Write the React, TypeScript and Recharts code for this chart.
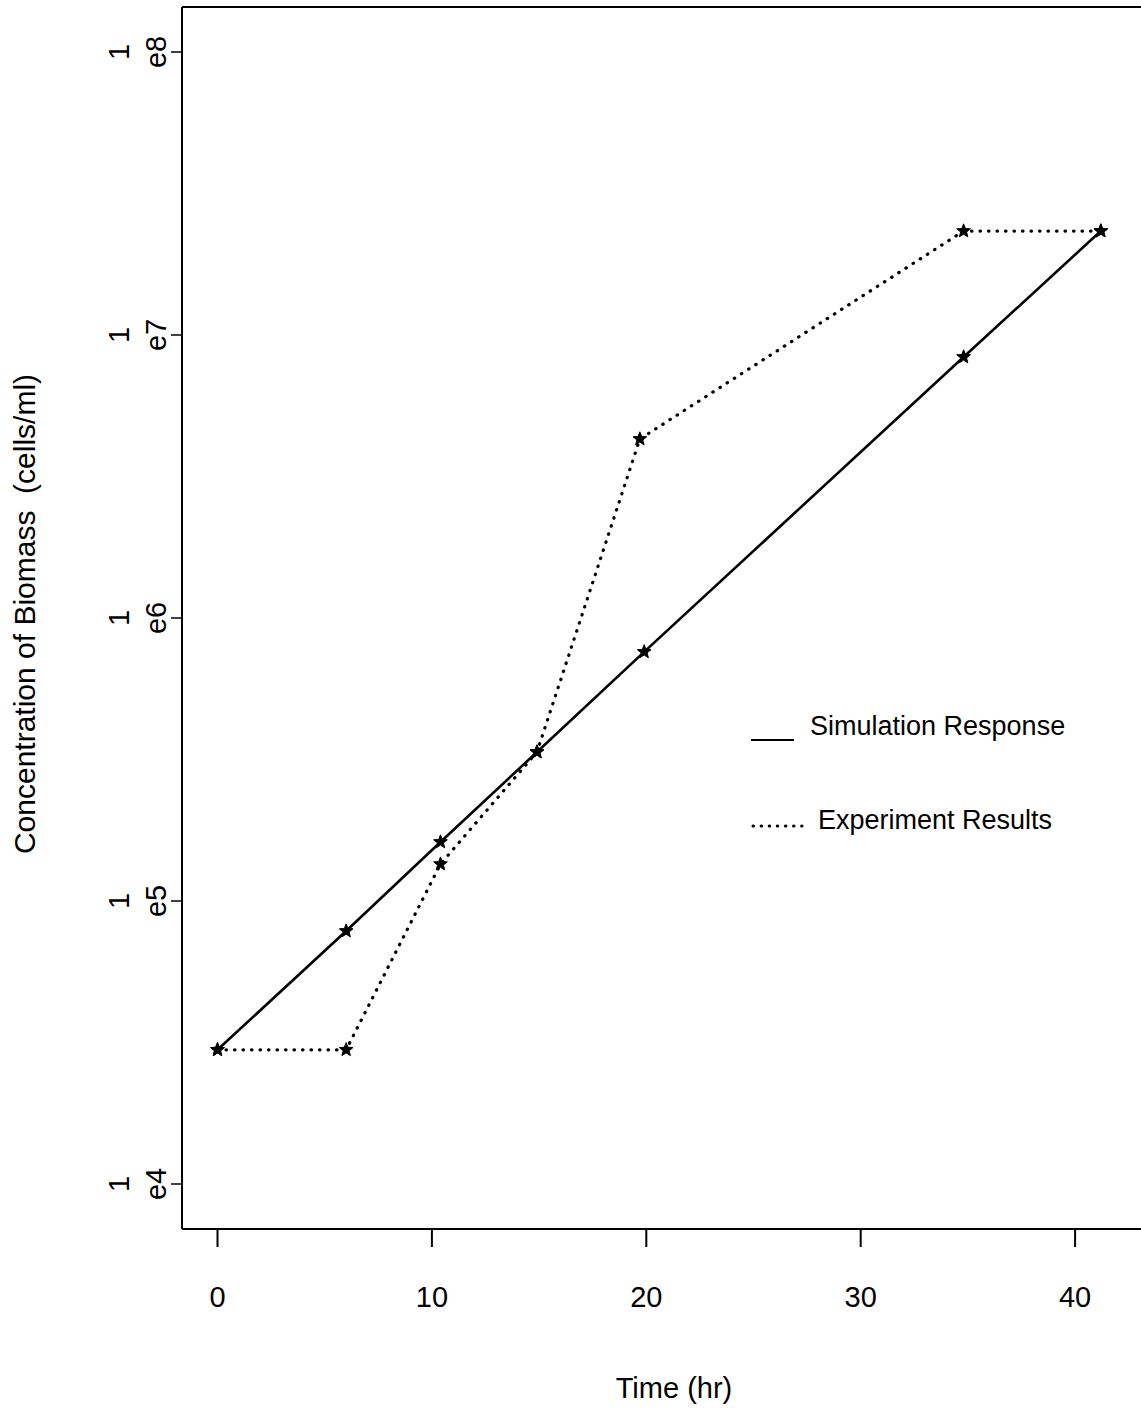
import React from 'react';
import { LineChart, Line, XAxis, YAxis, Legend, ReferenceLine } from 'recharts';

// ---- data ----
const TIME_SIM = [0, 6, 10.4, 14.9, 19.9, 34.8, 41.2];
const SIM_VALUES = [29800, 78300, 161600, 336000, 759000, 8360000, 23300000];
const TIME_EXP = [0, 6, 10.4, 14.9, 19.7, 34.8, 41.2];
const EXP_VALUES = [29800, 29800, 135000, 336000, 4290000, 23300000, 23300000];

const X_TICKS = [0, 10, 20, 30, 40];
const Y_TICKS = [1e4, 1e5, 1e6, 1e7, 1e8];
const Y_TICK_LABELS = [
  ['1', 'e4'],
  ['1', 'e5'],
  ['1', 'e6'],
  ['1', 'e7'],
  ['1', 'e8'],
];
const SERIES_NAMES = ['Simulation Response', 'Experiment Results'];
const X_TITLE = 'Time (hr)';
const Y_TITLE = 'Concentration of Biomass  (cells/ml)';

const X_DOMAIN = [-1.656, 44.24];
const Y_DOMAIN = [6934, 144200000];

const simData = TIME_SIM.map((t, i) => ({ t, v: SIM_VALUES[i] }));
const expData = TIME_EXP.map((t, i) => ({ t, v: EXP_VALUES[i] }));

const FONT = '"Liberation Sans", Arial, Helvetica, sans-serif';

function starPoints(cx: number, cy: number, R: number, r: number) {
  const pts: string[] = [];
  for (let i = 0; i < 10; i++) {
    const ang = -Math.PI / 2 + (i * Math.PI) / 5;
    const rad = i % 2 === 0 ? R : r;
    pts.push(`${(cx + rad * Math.cos(ang)).toFixed(2)},${(cy + rad * Math.sin(ang)).toFixed(2)}`);
  }
  return pts.join(' ');
}

const StarDot = (props: any) => {
  const { cx, cy, index } = props;
  if (cx == null || cy == null) return <g key={`n${index}`} />;
  return (
    <polygon
      key={`s${index}-${cx}`}
      points={starPoints(cx, cy, 7.2, 3.1)}
      fill="#000"
      stroke="#000"
      strokeWidth={1}
      strokeLinejoin="round"
    />
  );
};

const XTick = (props: any) => {
  const { x, y, payload } = props;
  return (
    <text x={x} y={y + 58} textAnchor="middle" fontSize={29} fontFamily={FONT} fill="#000">
      {payload.value}
    </text>
  );
};

const YTick = (props: any) => {
  const { x, y, payload } = props;
  const idx = Y_TICKS.indexOf(payload.value);
  const lab = Y_TICK_LABELS[idx] || ['', ''];
  return (
    <g>
      <text
        transform={`translate(${x - 40},${y}) rotate(-90)`}
        textAnchor="middle"
        fontSize={29}
        fontFamily={FONT}
        fill="#000"
      >
        {lab[0]}
      </text>
      <text
        transform={`translate(${x - 3},${y}) rotate(-90)`}
        textAnchor="middle"
        fontSize={29}
        fontFamily={FONT}
        fill="#000"
      >
        {lab[1]}
      </text>
    </g>
  );
};

const XTitle = (props: any) => {
  const vb = props.viewBox || { x: 182, y: 1229, width: 984 };
  return (
    <text
      x={vb.x + vb.width / 2}
      y={vb.y + 169}
      textAnchor="middle"
      fontSize={29}
      fontFamily={FONT}
      fill="#000"
    >
      {X_TITLE}
    </text>
  );
};

const YTitle = (props: any) => {
  const vb = props.viewBox || { x: 0, y: 7, width: 182, height: 1222 };
  const cy = vb.y + vb.height / 2 - 4;
  return (
    <text
      transform={`translate(35,${cy}) rotate(-90)`}
      textAnchor="middle"
      fontSize={30}
      fontFamily={FONT}
      fill="#000"
      style={{ whiteSpace: 'pre' }}
    >
      {Y_TITLE}
    </text>
  );
};

const LegendBox = () => (
  <svg width={380} height={170} style={{ overflow: 'visible' }}>
    <line x1={11} y1={50} x2={54} y2={50} stroke="#000" strokeWidth={2.2} />
    <text x={70} y={45} fontSize={27} fontFamily={FONT} fill="#000">
      {SERIES_NAMES[0]}
    </text>
    <line
      x1={13}
      y1={136}
      x2={62}
      y2={136}
      stroke="#000"
      strokeWidth={3}
      strokeDasharray="0.5 7.6"
      strokeLinecap="round"
    />
    <text x={78} y={139} fontSize={27} fontFamily={FONT} fill="#000">
      {SERIES_NAMES[1]}
    </text>
  </svg>
);

export default function App() {
  return (
    <div
      style={{
        position: 'absolute',
        left: 0,
        top: 0,
        width: 1141,
        height: 1410,
        overflow: 'hidden',
        background: '#fff',
      }}
    >
      <LineChart
        width={1200}
        height={1410}
        margin={{ top: 7, right: 34, bottom: 81, left: 0 }}
      >
        <XAxis
          dataKey="t"
          type="number"
          domain={X_DOMAIN}
          ticks={X_TICKS}
          allowDataOverflow
          height={100}
          tickSize={18}
          tickMargin={2}
          axisLine={{ stroke: '#000', strokeWidth: 2 }}
          tickLine={{ stroke: '#000', strokeWidth: 2 }}
          tick={<XTick />}
          label={<XTitle />}
        />
        <YAxis
          type="number"
          scale="log"
          domain={Y_DOMAIN}
          ticks={Y_TICKS}
          allowDataOverflow
          width={182}
          tickSize={11}
          tickMargin={2}
          axisLine={{ stroke: '#000', strokeWidth: 2 }}
          tickLine={{ stroke: '#000', strokeWidth: 1.5 }}
          tick={<YTick />}
          label={<YTitle />}
        />
        <ReferenceLine y={Y_DOMAIN[1]} stroke="#000" strokeWidth={2} ifOverflow="visible" />
        <Legend
          layout="horizontal"
          verticalAlign="middle"
          align="center"
          content={<LegendBox />}
          wrapperStyle={{ left: 740, top: 690, width: 380, height: 170 }}
        />
        <Line
          name={SERIES_NAMES[0]}
          data={simData}
          dataKey="v"
          type="linear"
          stroke="#000"
          strokeWidth={2.6}
          dot={StarDot}
          activeDot={false}
          isAnimationActive={false}
        />
        <Line
          name={SERIES_NAMES[1]}
          data={expData}
          dataKey="v"
          type="linear"
          stroke="#000"
          strokeWidth={3.2}
          strokeDasharray="0.5 8"
          strokeLinecap="round"
          dot={StarDot}
          activeDot={false}
          isAnimationActive={false}
        />
      </LineChart>
    </div>
  );
}
